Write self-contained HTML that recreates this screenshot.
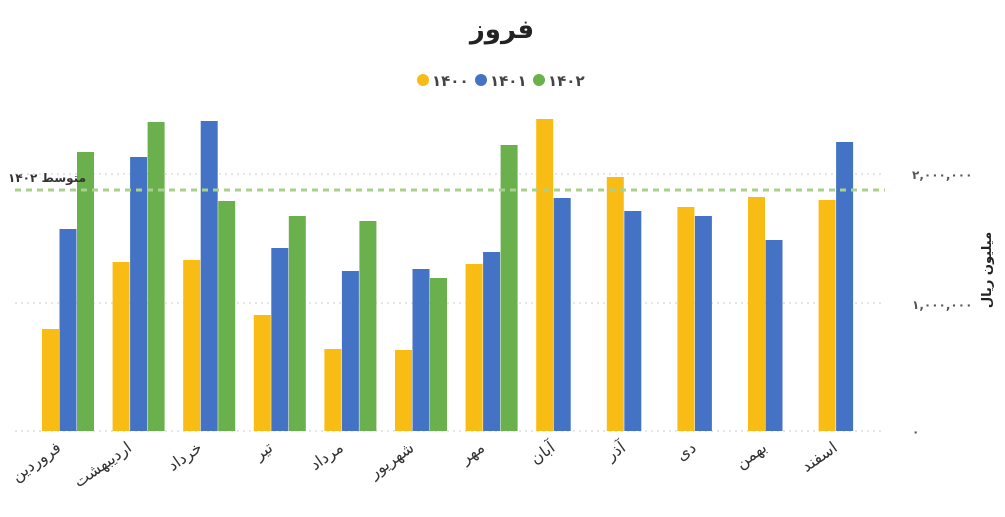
<!DOCTYPE html>
<html><head><meta charset="utf-8"><style>
body{margin:0;background:#fff;}
svg{display:block;font-family:"DejaVu Sans","Liberation Sans",sans-serif;}
</style></head><body>
<svg width="1005" height="517" viewBox="0 0 1005 517" xmlns="http://www.w3.org/2000/svg">
<rect width="1005" height="517" fill="#fff"/>
<text x="502" y="38" text-anchor="middle" font-size="26" font-weight="bold" fill="#222">فروز</text>
<g font-size="15" font-weight="bold" fill="#444">
<circle cx="423" cy="80" r="6" fill="#f9bc15"/><text x="432" y="86">۱۴۰۰</text>
<circle cx="481" cy="80" r="6" fill="#4472c4"/><text x="490" y="86">۱۴۰۱</text>
<circle cx="539" cy="80" r="6" fill="#6ab04c"/><text x="548" y="86">۱۴۰۲</text>
</g>
<g stroke="#ccc" stroke-dasharray="2,4" stroke-width="1">
<line x1="15" y1="174" x2="885" y2="174"/><line x1="15" y1="303" x2="885" y2="303"/><line x1="15" y1="431" x2="885" y2="431"/>
</g>
<g font-size="12" fill="#555" font-weight="bold">
<text x="912" y="179">۲,۰۰۰,۰۰۰</text>
<text x="912" y="309">۱,۰۰۰,۰۰۰</text>
<text x="912" y="436">۰</text>
</g>
<text transform="translate(991,270) rotate(-90)" text-anchor="middle" font-size="13" font-weight="bold" fill="#222">میلیون ریال</text>
<g fill="#f9bc15">
<rect x="42" y="329" width="17" height="102"/>
<rect x="112.6" y="262" width="17" height="169"/>
<rect x="183.2" y="260" width="17" height="171"/>
<rect x="253.8" y="315" width="17" height="116"/>
<rect x="324.4" y="349" width="17" height="82"/>
<rect x="395" y="350" width="17" height="81"/>
<rect x="465.6" y="264" width="17" height="167"/>
<rect x="536.2" y="119" width="17" height="312"/>
<rect x="606.8" y="177" width="17" height="254"/>
<rect x="677.4" y="207" width="17" height="224"/>
<rect x="748" y="197" width="17" height="234"/>
<rect x="818.6" y="200" width="17" height="231"/>
</g>
<g fill="#4472c4">
<rect x="59.5" y="229" width="17" height="202"/>
<rect x="130.1" y="157" width="17" height="274"/>
<rect x="200.7" y="121" width="17" height="310"/>
<rect x="271.3" y="248" width="17" height="183"/>
<rect x="341.9" y="271" width="17" height="160"/>
<rect x="412.5" y="269" width="17" height="162"/>
<rect x="483.1" y="252" width="17" height="179"/>
<rect x="553.7" y="198" width="17" height="233"/>
<rect x="624.3" y="211" width="17" height="220"/>
<rect x="694.9" y="216" width="17" height="215"/>
<rect x="765.5" y="240" width="17" height="191"/>
<rect x="836.1" y="142" width="17" height="289"/>
</g>
<g fill="#6ab04c">
<rect x="77" y="152" width="17" height="279"/>
<rect x="147.6" y="122" width="17" height="309"/>
<rect x="218.2" y="201" width="17" height="230"/>
<rect x="288.8" y="216" width="17" height="215"/>
<rect x="359.4" y="221" width="17" height="210"/>
<rect x="430" y="278" width="17" height="153"/>
<rect x="500.6" y="145" width="17" height="286"/>
</g>
<line x1="15" y1="190" x2="885" y2="190" stroke="#a9d18e" stroke-width="3" stroke-dasharray="6,5"/>
<text x="86" y="182" text-anchor="end" font-size="12" font-weight="bold" fill="#333">متوسط ۱۴۰۲</text>
<g font-size="16" fill="#333" text-anchor="end">
<text transform="translate(62,450) rotate(-35)">فروردین</text>
<text transform="translate(132.6,450) rotate(-35)">اردیبهشت</text>
<text transform="translate(203.2,450) rotate(-35)">خرداد</text>
<text transform="translate(273.8,450) rotate(-35)">تیر</text>
<text transform="translate(344.4,450) rotate(-35)">مرداد</text>
<text transform="translate(415,450) rotate(-35)">شهریور</text>
<text transform="translate(485.6,450) rotate(-35)">مهر</text>
<text transform="translate(556,450) rotate(-35)">آبان</text>
<text transform="translate(626.6,450) rotate(-35)">آذر</text>
<text transform="translate(697.2,450) rotate(-35)">دی</text>
<text transform="translate(767.8,450) rotate(-35)">بهمن</text>
<text transform="translate(838.4,450) rotate(-35)">اسفند</text>
</g>
</svg>
</body></html>
